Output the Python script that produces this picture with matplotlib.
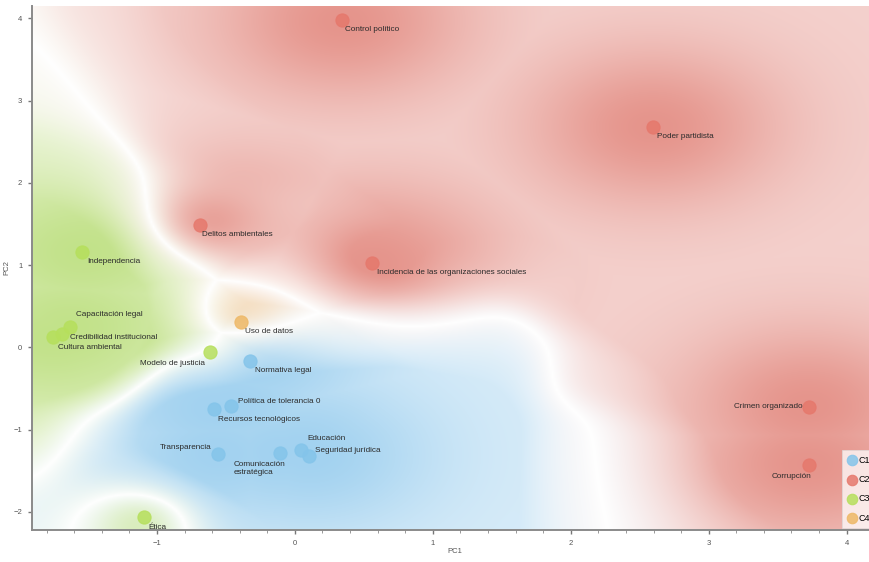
import numpy as np
import matplotlib.pyplot as plt
from matplotlib.ticker import MultipleLocator, AutoMinorLocator

plt.rcParams['font.family'] = ['Liberation Sans', 'DejaVu Sans']

# variables projected on the first two principal components
names = ["Control político", "Poder partidista", "Delitos ambientales",
         "Incidencia de las organizaciones sociales", "Crimen organizado", "Corrupción",
         "Independencia", "Capacitación legal", "Credibilidad institucional",
         "Cultura ambiental", "Modelo de justicia", "Ética",
         "Uso de datos",
         "Normativa legal", "Política de tolerancia 0", "Recursos tecnológicos",
         "Transparencia", "Comunicación\nestratégica", "Educación", "Seguridad jurídica"]
pc1 = [0.344, 2.598, -0.685, 0.562, 3.728, 3.728,
       -1.540, -1.634, -1.685, -1.757, -0.612, -1.091,
       -0.388,
       -0.322, -0.460, -0.583, -0.554, -0.105, 0.047, 0.105]
pc2 = [3.976, 2.685, 1.485, 1.024, -0.721, -1.424,
       1.158, 0.248, 0.164, 0.127, -0.055, -2.067,
       0.309,
       -0.164, -0.709, -0.745, -1.291, -1.279, -1.242, -1.315]
cluster = [1, 1, 1, 1, 1, 1,
           2, 2, 2, 2, 2, 2,
           3,
           0, 0, 0, 0, 0, 0, 0]
cluster_names = ["C1", "C2", "C3", "C4"]

# label placement: offset in pixels and horizontal alignment
label_pos = [(3, -9.5, 'left'), (4, -10, 'left'), (2, -9, 'left'), (5, -9, 'left'),
             (-7, 0, 'right'), (2, -12, 'right'),
             (5, -9, 'left'), (6, 12, 'left'), (8, -4, 'left'), (5, -11, 'left'),
             (-5, -12, 'right'), (4, -10, 'left'),
             (4, -10, 'left'),
             (5, -10, 'left'), (7, 4, 'left'), (4, -11, 'left'), (-7, 6, 'right'),
             (-47, -16, 'left'), (6, 11, 'left'), (6, 5, 'left')]

dot_colors = ['#84c4ea', '#e6786c', '#b6df5c', '#eeb866']
bg_colors = np.array([[150, 204, 238], [226, 134, 124], [186, 222, 122], [236, 178, 108]]) / 255.0

x_lo, x_hi = -1.906, 4.22
y_lo, y_hi = -2.22, 4.15

x = np.array(pc1)
y = np.array(pc2)
cl = np.array(cluster)


def smooth(a, s):
    # separable gaussian blur with edge padding
    r = int(3 * s)
    k = np.exp(-np.arange(-r, r + 1) ** 2 / (2 * s ** 2))
    k /= k.sum()
    for axis in (0, 1):
        pad = [(0, 0)] * a.ndim
        pad[axis] = (r, r)
        ap = np.pad(a, pad, mode='edge')
        a = np.apply_along_axis(lambda v: np.convolve(v, k, mode='valid'), axis, ap)
    return a


# class density background from weighted nearest neighbours
gx = np.linspace(x_lo, x_hi, 400)
gy = np.linspace(y_lo, y_hi, 400)
GX, GY = np.meshgrid(gx, gy)
nx = (GX - x_lo) / (x_hi - x_lo)
ny = (GY - y_lo) / (y_hi - y_lo)
d2 = (nx[..., None] - (x - x_lo) / (x_hi - x_lo)) ** 2 + \
     (ny[..., None] - (y - y_lo) / (y_hi - y_lo)) ** 2
dist = np.sqrt(d2)

n_nb = 5
order = np.argsort(dist, axis=-1)[..., :n_nb]
wk = (1.0 / (np.take_along_axis(dist, order, axis=-1) + 0.03)) ** 1.5
ck = cl[order]
probs = np.stack([(wk * (ck == c)).sum(-1) for c in range(4)], axis=-1)
probs /= probs.sum(-1, keepdims=True)
probs = np.stack([smooth(probs[..., c], 11) for c in range(4)], axis=-1)

ps = np.sort(probs, axis=-1)
purity = np.clip((ps[..., -1] - ps[..., -2]) / 0.6, 0, 1) ** 0.8

dens = np.exp(-d2 / (2 * 0.11 ** 2)).max(-1)
alpha = purity * (0.38 + 0.5 * dens)

sharp = probs ** 4
sharp /= sharp.sum(-1, keepdims=True)
rgb = sharp @ bg_colors
img = 1 - alpha[..., None] * (1 - rgb)

fig = plt.figure(figsize=(8.7, 5.62), dpi=100)
ax = fig.add_axes([32 / 870, 32 / 562, 845 / 870, 524 / 562])
ax.imshow(img, extent=(x_lo, x_hi, y_lo, y_hi), origin='lower', aspect='auto',
          interpolation='bilinear', zorder=0)

for k in range(4):
    m = cl == k
    ax.scatter(x[m], y[m], s=90, c=dot_colors[k], alpha=0.85,
               edgecolors=dot_colors[k], linewidths=0.8, zorder=3, label=cluster_names[k])

for i, name in enumerate(names):
    dx, dy, ha = label_pos[i]
    ax.annotate(name, (x[i], y[i]), xytext=(dx, dy), textcoords='offset pixels',
                ha=ha, va='center', fontsize=5.9, color='#2b2b2b', zorder=4,
                linespacing=1.2)

ax.set_xlim(x_lo, x_hi)
ax.set_ylim(y_lo, y_hi)
ax.xaxis.set_major_locator(MultipleLocator(1))
ax.yaxis.set_major_locator(MultipleLocator(1))
ax.xaxis.set_minor_locator(AutoMinorLocator(5))
for side in ['top', 'right']:
    ax.spines[side].set_visible(False)
for side in ['left', 'bottom']:
    ax.spines[side].set_color('#8a8a8a')
    ax.spines[side].set_linewidth(1.4)
ax.tick_params(which='major', length=3, width=1, color='#777777', labelsize=5.5,
               labelcolor='#555555', pad=4)
ax.tick_params(which='minor', length=2, width=0.7, color='#999999')
ax.set_xlabel('PC1', fontsize=5.5, color='#555555', labelpad=1)
ax.set_ylabel('PC2', fontsize=5.5, color='#555555', labelpad=2)

leg = ax.legend(loc='lower right', bbox_to_anchor=(1.0, 0.0), fontsize=6.5,
                frameon=True, fancybox=False, borderaxespad=0.2, handletextpad=0.2,
                labelspacing=1.15, borderpad=0.6, markerscale=0.8, handlelength=1.0)
leg.get_frame().set_facecolor('white')
leg.get_frame().set_alpha(0.75)
leg.get_frame().set_edgecolor('#dddddd')
leg.get_frame().set_linewidth(0.6)

fig.savefig('out.png', dpi=100)
